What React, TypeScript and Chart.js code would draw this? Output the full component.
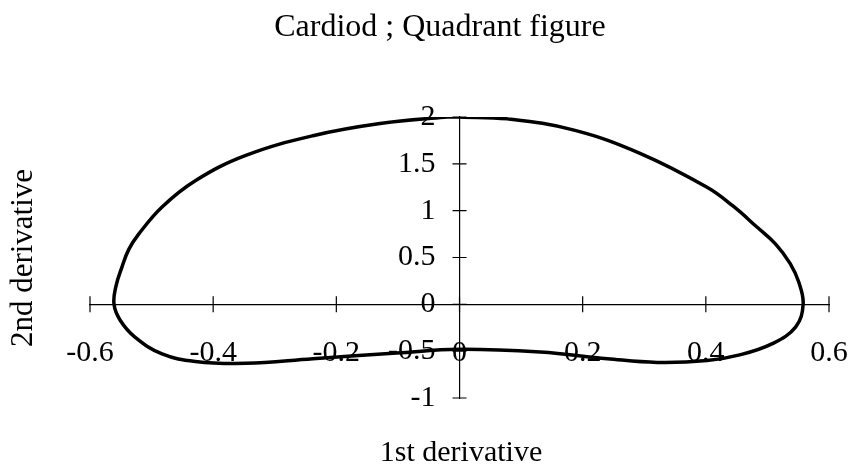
import { useEffect, useRef } from "react";
import { Chart, registerables } from "chart.js";

Chart.register(...registerables);

const chartTitle = "Cardiod ; Quadrant figure";
const xAxisTitle = "1st derivative";
const yAxisTitle = "2nd derivative";

// Closed curve, traced clockwise from the top of the loop.
const firstDerivative = [
  0, 0.078, 0.186, 0.294, 0.402, 0.444, 0.483, 0.513, 0.537, 0.551, 0.558,
  0.546, 0.508, 0.455, 0.402, 0.321, 0.24, 0.131, 0,
  -0.102, -0.238, -0.347, -0.429, -0.483, -0.527, -0.551, -0.561,
  -0.558, -0.548, -0.537, -0.521, -0.483, -0.429, -0.347, -0.238, -0.129, -0.02, 0,
];
const secondDerivative = [
  2.0, 1.98, 1.86, 1.61, 1.25, 1.05, 0.825, 0.646, 0.435, 0.235, 0,
  -0.24, -0.42, -0.54, -0.6, -0.62, -0.58, -0.51, -0.48,
  -0.52, -0.58, -0.63, -0.61, -0.53, -0.35, -0.17, 0,
  0.19, 0.4, 0.587, 0.75, 1.04, 1.32, 1.59, 1.8, 1.93, 2.0, 2.0,
];

const xTickValues = [-0.6, -0.4, -0.2, 0, 0.2, 0.4, 0.6];
const yTickValues = [-1, -0.5, 0, 0.5, 1, 1.5, 2];

const SERIF = "'Liberation Serif', 'Times New Roman', serif";
const TICK_FONT = `30px ${SERIF}`;

const formatTick = (v: number) => String(Math.round(v * 10) / 10);

// Axes sit inside the plot, so their label overhang should not shrink the area.
const noOverhang = (scale: any) => {
  scale.paddingLeft = 0;
  scale.paddingRight = 0;
  scale.paddingTop = 0;
  scale.paddingBottom = 0;
};

// Tick marks crossing both axes, plus the value labels left of the vertical axis.
const crossTicks = {
  id: "crossTicks",
  afterDatasetsDraw(chart: any) {
    const { ctx } = chart;
    const xs = chart.scales.x;
    const ys = chart.scales.y;
    const x0 = xs.getPixelForValue(0);
    const y0 = ys.getPixelForValue(0);
    ctx.save();
    ctx.strokeStyle = "#000";
    ctx.lineWidth = 1.2;
    ctx.beginPath();
    xs.ticks.forEach((t: any) => {
      const px = xs.getPixelForValue(t.value);
      ctx.moveTo(px, y0 - 8);
      ctx.lineTo(px, y0 + 8);
    });
    ys.ticks.forEach((t: any) => {
      const py = ys.getPixelForValue(t.value);
      ctx.moveTo(x0 - 7, py);
      ctx.lineTo(x0 + 7, py);
    });
    ctx.stroke();

    ctx.fillStyle = "#000";
    ctx.font = TICK_FONT;
    ctx.textAlign = "right";
    ctx.textBaseline = "middle";
    ys.ticks.forEach((t: any) => {
      ctx.fillText(formatTick(t.value), x0 - 24, ys.getPixelForValue(t.value));
    });
    ctx.restore();
  },
};

// Chart heading and axis captions.
const captions = {
  id: "captions",
  afterDraw(chart: any) {
    const { ctx } = chart;
    ctx.save();
    ctx.fillStyle = "#000";
    ctx.textAlign = "center";
    ctx.textBaseline = "alphabetic";
    ctx.font = `32px ${SERIF}`;
    ctx.fillText(chartTitle, 440, 36);
    ctx.font = `30px ${SERIF}`;
    ctx.fillText(xAxisTitle, 461, 461);
    ctx.font = `31px ${SERIF}`;
    ctx.translate(32, 258);
    ctx.rotate(-Math.PI / 2);
    ctx.fillText(yAxisTitle, 0, 0);
    ctx.restore();
  },
};

export default function App() {
  const canvasRef = useRef<HTMLCanvasElement | null>(null);

  useEffect(() => {
    if (!canvasRef.current) return;
    const points = firstDerivative.map((x, i) => ({ x, y: secondDerivative[i] }));
    const chart = new Chart(canvasRef.current, {
      type: "scatter",
      data: {
        datasets: [
          {
            data: points,
            showLine: true,
            tension: 0.4,
            borderColor: "#000",
            borderWidth: 3.5,
            pointRadius: 0,
            pointHoverRadius: 0,
            fill: false,
          },
        ],
      },
      options: {
        responsive: false,
        animation: false,
        layout: { padding: { left: 90, right: 24, top: 117, bottom: 72 } },
        plugins: {
          legend: { display: false },
          tooltip: { enabled: false },
          title: { display: false },
        },
        scales: {
          x: {
            type: "linear",
            position: { y: 0 },
            min: -0.6,
            max: 0.6,
            afterBuildTicks: (scale: any) => {
              scale.ticks = xTickValues.map((value) => ({ value }));
            },
            afterFit: noOverhang,
            grid: { display: false, drawTicks: false },
            border: { display: true, color: "#000", width: 1.2 },
            ticks: {
              color: "#000",
              padding: 31,
              maxRotation: 0,
              autoSkip: false,
              font: { family: SERIF, size: 30 },
              callback: (v: any) => formatTick(Number(v)),
            },
          },
          y: {
            type: "linear",
            position: { x: 0 },
            min: -1,
            max: 2,
            afterBuildTicks: (scale: any) => {
              scale.ticks = yTickValues.map((value) => ({ value }));
            },
            afterFit: noOverhang,
            grid: { display: false, drawTicks: false },
            border: { display: true, color: "#000", width: 1.2 },
            ticks: { display: false },
          },
        },
      },
      plugins: [crossTicks, captions],
    });
    return () => chart.destroy();
  }, []);

  return (
    <div style={{ position: "absolute", left: 0, top: 0, width: 853, height: 470, background: "#fff" }}>
      <canvas ref={canvasRef} width={853} height={470} />
    </div>
  );
}
